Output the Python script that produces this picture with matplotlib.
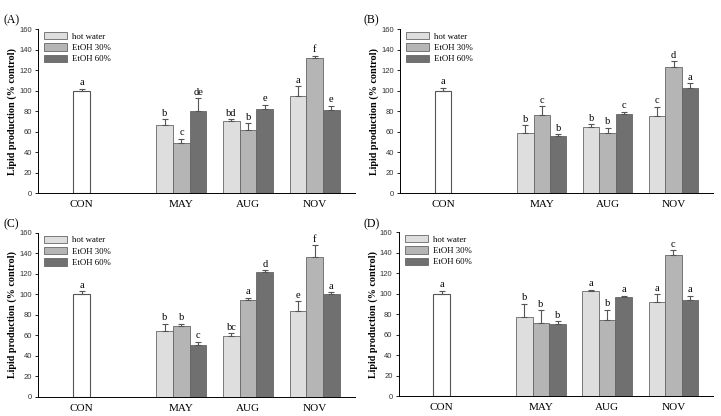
import matplotlib
matplotlib.use("Agg")
import matplotlib.pyplot as plt
import numpy as np

# groups and series
months = ["MAY", "AUG", "NOV"]
series = ["hot water", "EtOH 30%", "EtOH 60%"]
colors = ["#dedede", "#b5b5b5", "#707070"]

con_val = [100, 100, 100, 100]
con_err = [2, 2.5, 3, 2.5]

# values per panel: rows = series, cols = months
a_vals = [[66, 70, 95], [49, 62, 132], [80, 82, 81]]
a_errs = [[6, 2, 9], [4, 6, 2], [12.5, 4, 4]]
a_lets = [["b", "bd", "a"], ["c", "b", "f"], ["de", "e", "e"]]

b_vals = [[59, 64, 75], [76, 59, 123], [56, 77.5, 103]]
b_errs = [[7, 3, 9], [8.5, 4.5, 5.5], [1.5, 2, 4]]
b_lets = [["b", "b", "c"], ["c", "b", "d"], ["b", "c", "a"]]

c_vals = [[64, 59, 83.5], [69, 94.5, 137], [51, 122, 100]]
c_errs = [[7.5, 3, 10], [2.5, 2, 11], [3, 1.5, 2]]
c_lets = [["b", "bc", "e"], ["b", "a", "f"], ["c", "d", "a"]]

d_vals = [[77.5, 103, 92], [71, 74, 138], [70, 97, 94]]
d_errs = [[12.5, 0.8, 7.5], [12.5, 10, 4.5], [3, 1, 4]]
d_lets = [["b", "a", "a"], ["b", "b", "c"], ["b", "a", "a"]]

panels = ["(A)", "(B)", "(C)", "(D)"]
vals = [a_vals, b_vals, c_vals, d_vals]
errs = [a_errs, b_errs, c_errs, d_errs]
lets = [a_lets, b_lets, c_lets, d_lets]

serif = ["Liberation Serif", "DejaVu Serif"]
sans = ["Liberation Sans", "DejaVu Sans"]

fig = plt.figure(figsize=(7.21, 4.16), dpi=100)
# axes rectangles [left, bottom, width, height] in figure fraction
rects = [[0.053, 0.536, 0.439, 0.394],
         [0.555, 0.536, 0.434, 0.394],
         [0.053, 0.046, 0.439, 0.394],
         [0.553, 0.048, 0.436, 0.394]]
# panel label positions in pixels from top-left
label_pos = [(3, 20), (363, 20), (3, 224), (363, 224)]

w = 0.25
xcon = 0
xm = np.array([1.5, 2.5, 3.5])

for p in range(4):
    ax = fig.add_axes(rects[p])
    ax.bar(xcon, con_val[p], w, color="white", edgecolor="#555555", linewidth=0.8,
           yerr=[[0], [con_err[p]]], capsize=2,
           error_kw=dict(ecolor="#555555", elinewidth=0.8, capthick=0.8))
    ax.text(xcon, con_val[p] + con_err[p] + 1.5, "a", ha="center", va="bottom",
            family=serif, fontsize=7.5)
    for s in range(3):
        xs = xm + (s - 1) * w
        ax.bar(xs, vals[p][s], w, color=colors[s], edgecolor="#666666", linewidth=0.6,
               label=series[s],
               yerr=[[0] * 3, errs[p][s]], capsize=2,
               error_kw=dict(ecolor="#555555", elinewidth=0.8, capthick=0.8))
        for i in range(3):
            ax.text(xs[i], vals[p][s][i] + errs[p][s][i] + 1.5, lets[p][s][i],
                    ha="center", va="bottom", family=serif, fontsize=7.5)
    ax.set_xlim(-0.65, 4.1)
    ax.set_ylim(0, 160)
    ax.set_yticks(range(0, 161, 20))
    ax.set_xticks([xcon] + list(xm))
    ax.set_xticklabels(["CON"] + months, family=serif, fontsize=8)
    ax.tick_params(axis="x", length=0, pad=5)
    ax.tick_params(axis="y", length=2.5, width=0.6, labelsize=5.5, pad=2)
    for lab in ax.get_yticklabels():
        lab.set_family(sans)
        lab.set_color("#333333")
    ax.spines["top"].set_visible(False)
    ax.spines["right"].set_visible(False)
    ax.spines["left"].set_linewidth(0.7)
    ax.spines["bottom"].set_linewidth(0.7)
    ax.set_ylabel("Lipid production (% control)", family=serif, fontsize=7.3,
                  fontweight="bold", labelpad=1.5)
    ax.legend(loc="upper left", bbox_to_anchor=(0.0, 1.02), frameon=False,
              prop={"family": serif, "size": 6.3}, handlelength=2.6, handleheight=0.9,
              labelspacing=0.3, handletextpad=0.6, borderaxespad=0.3)
    fig.text(label_pos[p][0] / 721, 1 - label_pos[p][1] / 416, panels[p],
             family=serif, fontsize=8.5, ha="left", va="center")

fig.savefig("out.png", dpi=100)
